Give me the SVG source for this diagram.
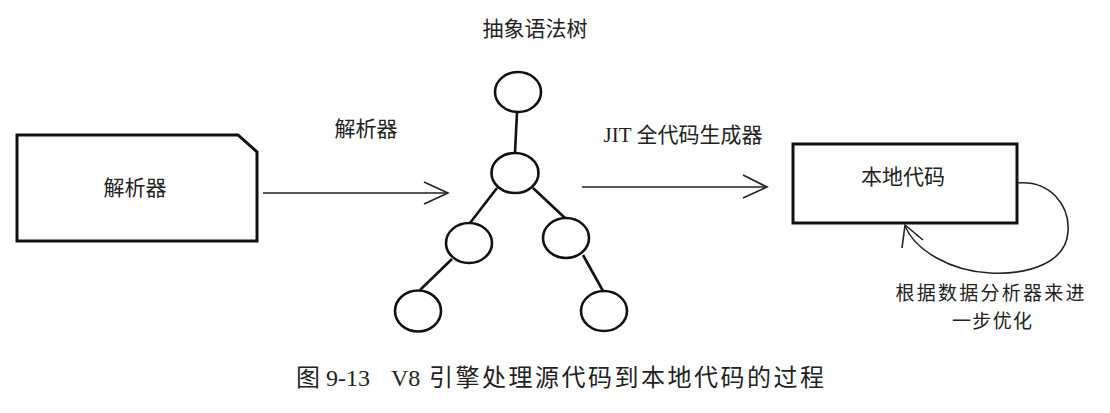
<svg xmlns="http://www.w3.org/2000/svg" width="1110" height="413" viewBox="0 0 1110 413">
<style>
.t{font-family:"Noto Sans CJK SC","Liberation Sans",sans-serif;font-size:21px;fill:#222}
.s{font-family:"Liberation Serif","Noto Sans CJK SC",serif;font-size:21px;fill:#222}
.box{fill:#fff;stroke:#111;stroke-width:3;stroke-linejoin:miter}
.nd{fill:#fff;stroke:#111;stroke-width:2.6}
.ed{stroke:#111;stroke-width:2.6;fill:none}
.ar{stroke:#222;stroke-width:1.6;fill:none}
</style>
<rect width="1110" height="413" fill="#fff"/>
<g id="parser">
<path class="box" d="M17,135 L238,135 L257,152 L257,241 L17,241 Z"/>
<text class="t" x="135" y="195" text-anchor="middle">解析器</text>
</g>
<g id="native">
<rect class="box" x="793" y="144" width="224" height="79"/>
<text class="t" x="903" y="184" text-anchor="middle">本地代码</text>
</g>
<g id="ast">
<text class="t" x="535" y="36" text-anchor="middle">抽象语法树</text>
<g id="tree-edges">
<line class="ed" x1="517" y1="112" x2="515" y2="153"/>
<line class="ed" x1="497" y1="188" x2="470" y2="223"/>
<line class="ed" x1="533" y1="188" x2="565" y2="218"/>
<line class="ed" x1="452" y1="259" x2="420" y2="290"/>
<line class="ed" x1="583" y1="255" x2="603" y2="291"/>
</g>
<ellipse id="n1" class="nd" cx="518" cy="92" rx="23" ry="20"/>
<ellipse id="n2" class="nd" cx="515" cy="173" rx="23.5" ry="20"/>
<ellipse id="n3" class="nd" cx="469" cy="243" rx="23" ry="20"/>
<ellipse id="n4" class="nd" cx="566" cy="238" rx="23" ry="20"/>
<ellipse id="n5" class="nd" cx="418" cy="311" rx="23" ry="20.5"/>
<ellipse id="n6" class="nd" cx="604" cy="311" rx="23" ry="20"/>
</g>
<g id="connectors">
<line class="ar" x1="263" y1="193" x2="448" y2="193"/>
<polyline class="ar" points="424,182 448,193 424,204"/>
<text class="t" x="366" y="136" text-anchor="middle">解析器</text>
<line class="ar" x1="582" y1="187" x2="767" y2="187"/>
<polyline class="ar" points="743,175 767,187 743,198"/>
<text class="s" x="683" y="142" text-anchor="middle">JIT 全代码生成器</text>
<path class="ar" stroke-width="1.4" d="M1017,183 C1050,180 1070,205 1068,232 C1066,262 1030,275 990,273 C950,271 915,250 905,226"/>
<polyline class="ar" stroke-width="1.4" points="902,248 905,225 923,240"/>
<text class="t" x="990" y="300" text-anchor="middle" style="font-size:19px" textLength="189" lengthAdjust="spacing">根据数据分析器来进</text>
<text class="t" x="992" y="328" text-anchor="middle" style="font-size:19px" textLength="80" lengthAdjust="spacing">一步优化</text>
</g>
<g id="caption" font-family="'Liberation Serif','Noto Sans CJK SC',serif" font-size="24" fill="#222">
<text x="296" y="386">图</text>
<text x="326" y="386">9-13</text>
<text x="391" y="386">V8</text>
<text x="429" y="386" textLength="395" lengthAdjust="spacing">引擎处理源代码到本地代码的过程</text>
</g>
</svg>
